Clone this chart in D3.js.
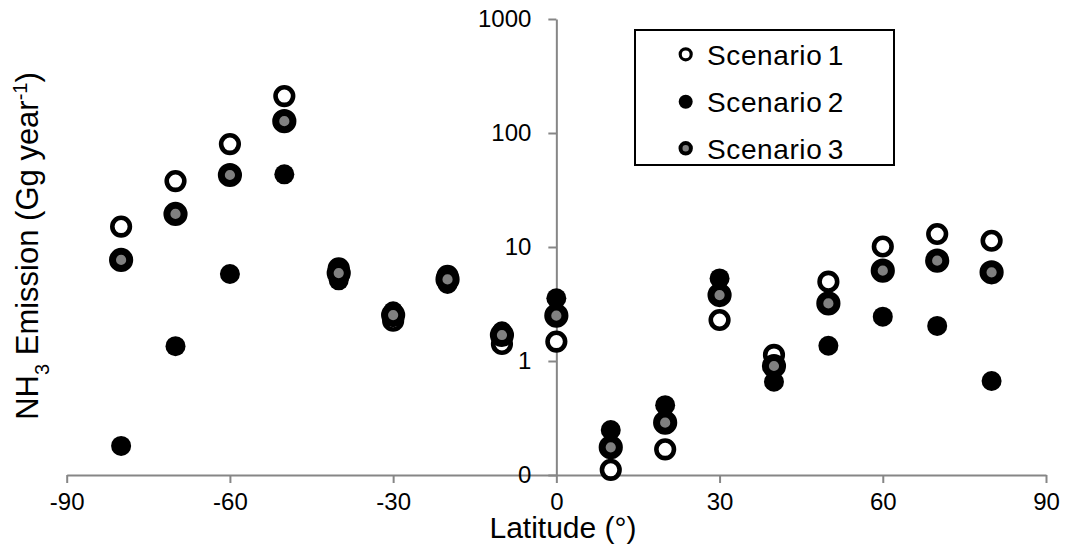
<!DOCTYPE html>
<html>
<head>
<meta charset="utf-8">
<script src="https://cdn.jsdelivr.net/npm/d3@7"></script>
<style>
  html, body { margin: 0; padding: 0; background: #fff; }
  svg { display: block; font-family: "Liberation Sans", Arial, sans-serif; }
</style>
</head>
<body>
<svg id="chart" width="1071" height="545"></svg>
<script>
// ---- data ----
const latitudes = [-80, -70, -60, -50, -40, -30, -20, -10, 0, 10, 20, 30, 40, 50, 60, 70, 80];
const scenario1 = [15.1, 37.9, 80, 211, 6.5, 2.26, 5.57, 1.41, 1.48, 0.111, 0.168, 2.29, 1.13, 4.96, 10.1, 13.0, 11.35];
const scenario2 = [0.18, 1.35, 5.8, 43.4, 5.1, 2.73, 4.74, 1.82, 3.55, 0.248, 0.41, 5.3, 0.658, 1.36, 2.45, 2.03, 0.668];
const scenario3 = [7.7, 19.5, 42.8, 127, 5.9, 2.53, 5.2, 1.69, 2.5, 0.175, 0.288, 3.79, 0.904, 3.2, 6.2, 7.59, 6.0];
const seriesNames = ["Scenario 1", "Scenario 2", "Scenario 3"];
const xTicks = [-90, -60, -30, 0, 30, 60, 90];
const xTickLabels = ["-90", "-60", "-30", "0", "30", "60", "90"];
const yTicks = [0.1, 1, 10, 100, 1000];
const yTickLabels = ["0", "1", "10", "100", "1000"];

// ---- styles ----
const styles = [
  { fill: "#ffffff", stroke: "#000", sw: 4.6, r: 8.8, lr: 5.5, lsw: 3.2 },
  { fill: "#000000", stroke: "#000", sw: 0,   r: 10,  lr: 7,   lsw: 0 },
  { fill: "#808080", stroke: "#000", sw: 7,   r: 8.6, lr: 5.2, lsw: 4 }
];
const axisColor = "#868686";

const svg = d3.select("#chart");
const x = d3.scaleLinear().domain([-90, 90]).range([66.7, 1046]);
const y = d3.scaleLog().domain([0.1, 1000]).range([475, 19]);

// x axis
const xAxis = svg.append("g")
  .attr("transform", `translate(0,${y(0.1)})`)
  .call(d3.axisBottom(x).tickValues(xTicks).tickSize(8).tickSizeOuter(0).tickPadding(10)
    .tickFormat((d, i) => xTickLabels[i]));
// y axis at x=0
const yAxis = svg.append("g")
  .attr("transform", `translate(${x(0)},0)`)
  .call(d3.axisLeft(y).tickValues(yTicks).tickSize(8).tickSizeOuter(0).tickPadding(17)
    .tickFormat((d, i) => yTickLabels[i]));

[xAxis, yAxis].forEach(g => {
  g.selectAll("path.domain").attr("stroke", axisColor).attr("stroke-width", 2);
  g.selectAll(".tick line").attr("stroke", axisColor).attr("stroke-width", 2);
  g.selectAll(".tick text").attr("fill", "#000").style("font-size", "24px")
    .style("font-family", "'Liberation Sans', Arial, sans-serif");
});

// points
const allSeries = [scenario1, scenario2, scenario3];
allSeries.forEach((vals, si) => {
  const st = styles[si];
  svg.append("g").selectAll("circle")
    .data(latitudes.map((lat, i) => ({ lat, v: vals[i] })))
    .join("circle")
    .attr("cx", d => x(d.lat))
    .attr("cy", d => y(d.v))
    .attr("r", st.r)
    .attr("fill", st.fill)
    .attr("stroke", st.sw ? st.stroke : "none")
    .attr("stroke-width", st.sw);
});

// axis titles
svg.append("text")
  .attr("x", 563).attr("y", 538)
  .attr("text-anchor", "middle")
  .style("font-size", "30px")
  .text("Latitude (°)");

const yt = svg.append("text")
  .attr("transform", "translate(38,246) rotate(-90)")
  .attr("text-anchor", "middle")
  .style("font-size", "31px");
yt.append("tspan").text("NH");
yt.append("tspan").attr("baseline-shift", "sub").style("font-size", "20px").text("3");
yt.append("tspan").text(" Emission (Gg year");
yt.append("tspan").attr("baseline-shift", "super").style("font-size", "20px").text("-1");
yt.append("tspan").text(")");

// legend
const lg = svg.append("g");
lg.append("rect")
  .attr("x", 635).attr("y", 30).attr("width", 259).attr("height", 135)
  .attr("fill", "#fff").attr("stroke", "#000").attr("stroke-width", 2);
const rowY = [54.3, 101.7, 148.3];
seriesNames.forEach((name, i) => {
  const st = styles[i];
  lg.append("circle")
    .attr("cx", 685.7).attr("cy", rowY[i])
    .attr("r", st.lr)
    .attr("fill", st.fill)
    .attr("stroke", st.lsw ? "#000" : "none")
    .attr("stroke-width", st.lsw);
  lg.append("text")
    .attr("x", 707).attr("y", rowY[i] + 10.5)
    .style("font-size", "28px")
    .style("letter-spacing", "0.6px")
    .style("word-spacing", "-3px")
    .text(name);
});
</script>
</body>
</html>
